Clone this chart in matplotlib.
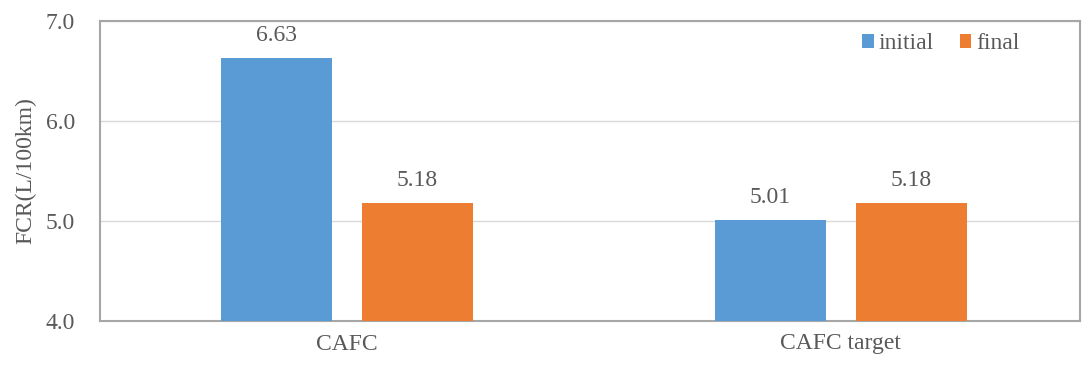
import matplotlib.pyplot as plt
import numpy as np

plt.rcParams['font.family'] = ['Liberation Serif', 'DejaVu Serif']

categories = ['CAFC', 'CAFC target']
initial = [6.63, 5.01]
final = [5.18, 5.18]

blue = '#5b9bd5'
orange = '#ed7d31'
text_gray = '#595959'
line_gray = '#a6a6a6'

fig = plt.figure(figsize=(10.83, 3.7), dpi=100)
ax = fig.add_axes([100 / 1083, 1 - 321 / 370, 980 / 1083, 300 / 370])

x = np.arange(len(categories))
w = 0.2247
off = 0.1427
b1 = ax.bar(x - off, initial, w, bottom=0, color=blue, label='initial', zorder=3)
b2 = ax.bar(x + off, final, w, bottom=0, color=orange, label='final', zorder=3)

# value labels above each bar
for bars, vals in [(b1, initial), (b2, final)]:
    for r, v in zip(bars, vals):
        ax.text(r.get_x() + r.get_width() / 2, v + 0.12, f'{v:.2f}',
                ha='center', va='bottom', fontsize=17, color=text_gray)

ax.set_xlim(-0.5, 1.484)
ax.set_ylim(4.0, 7.0)
ax.set_yticks([4.0, 5.0, 6.0, 7.0])
ax.set_yticklabels(['4.0', '5.0', '6.0', '7.0'])
ax.set_xticks(x)
ax.set_xticklabels(categories)
ax.tick_params(axis='both', length=0, labelsize=17, colors=text_gray)
ax.tick_params(axis='x', pad=9)
ax.tick_params(axis='y', pad=18)
ax.set_ylabel('FCR(L/100km)', fontsize=17, color=text_gray, labelpad=7)

ax.grid(axis='y', color='#d9d9d9', linewidth=1, zorder=0)
for s in ax.spines.values():
    s.set_color(line_gray)
    s.set_linewidth(1.5)

ax.legend(loc='upper right', bbox_to_anchor=(0.96, 1.03), ncol=2, frameon=False,
          fontsize=17, labelcolor=text_gray, handlelength=0.5, handleheight=0.5,
          handletextpad=0.2, columnspacing=1.1)

fig.savefig('out.png', dpi=100)
